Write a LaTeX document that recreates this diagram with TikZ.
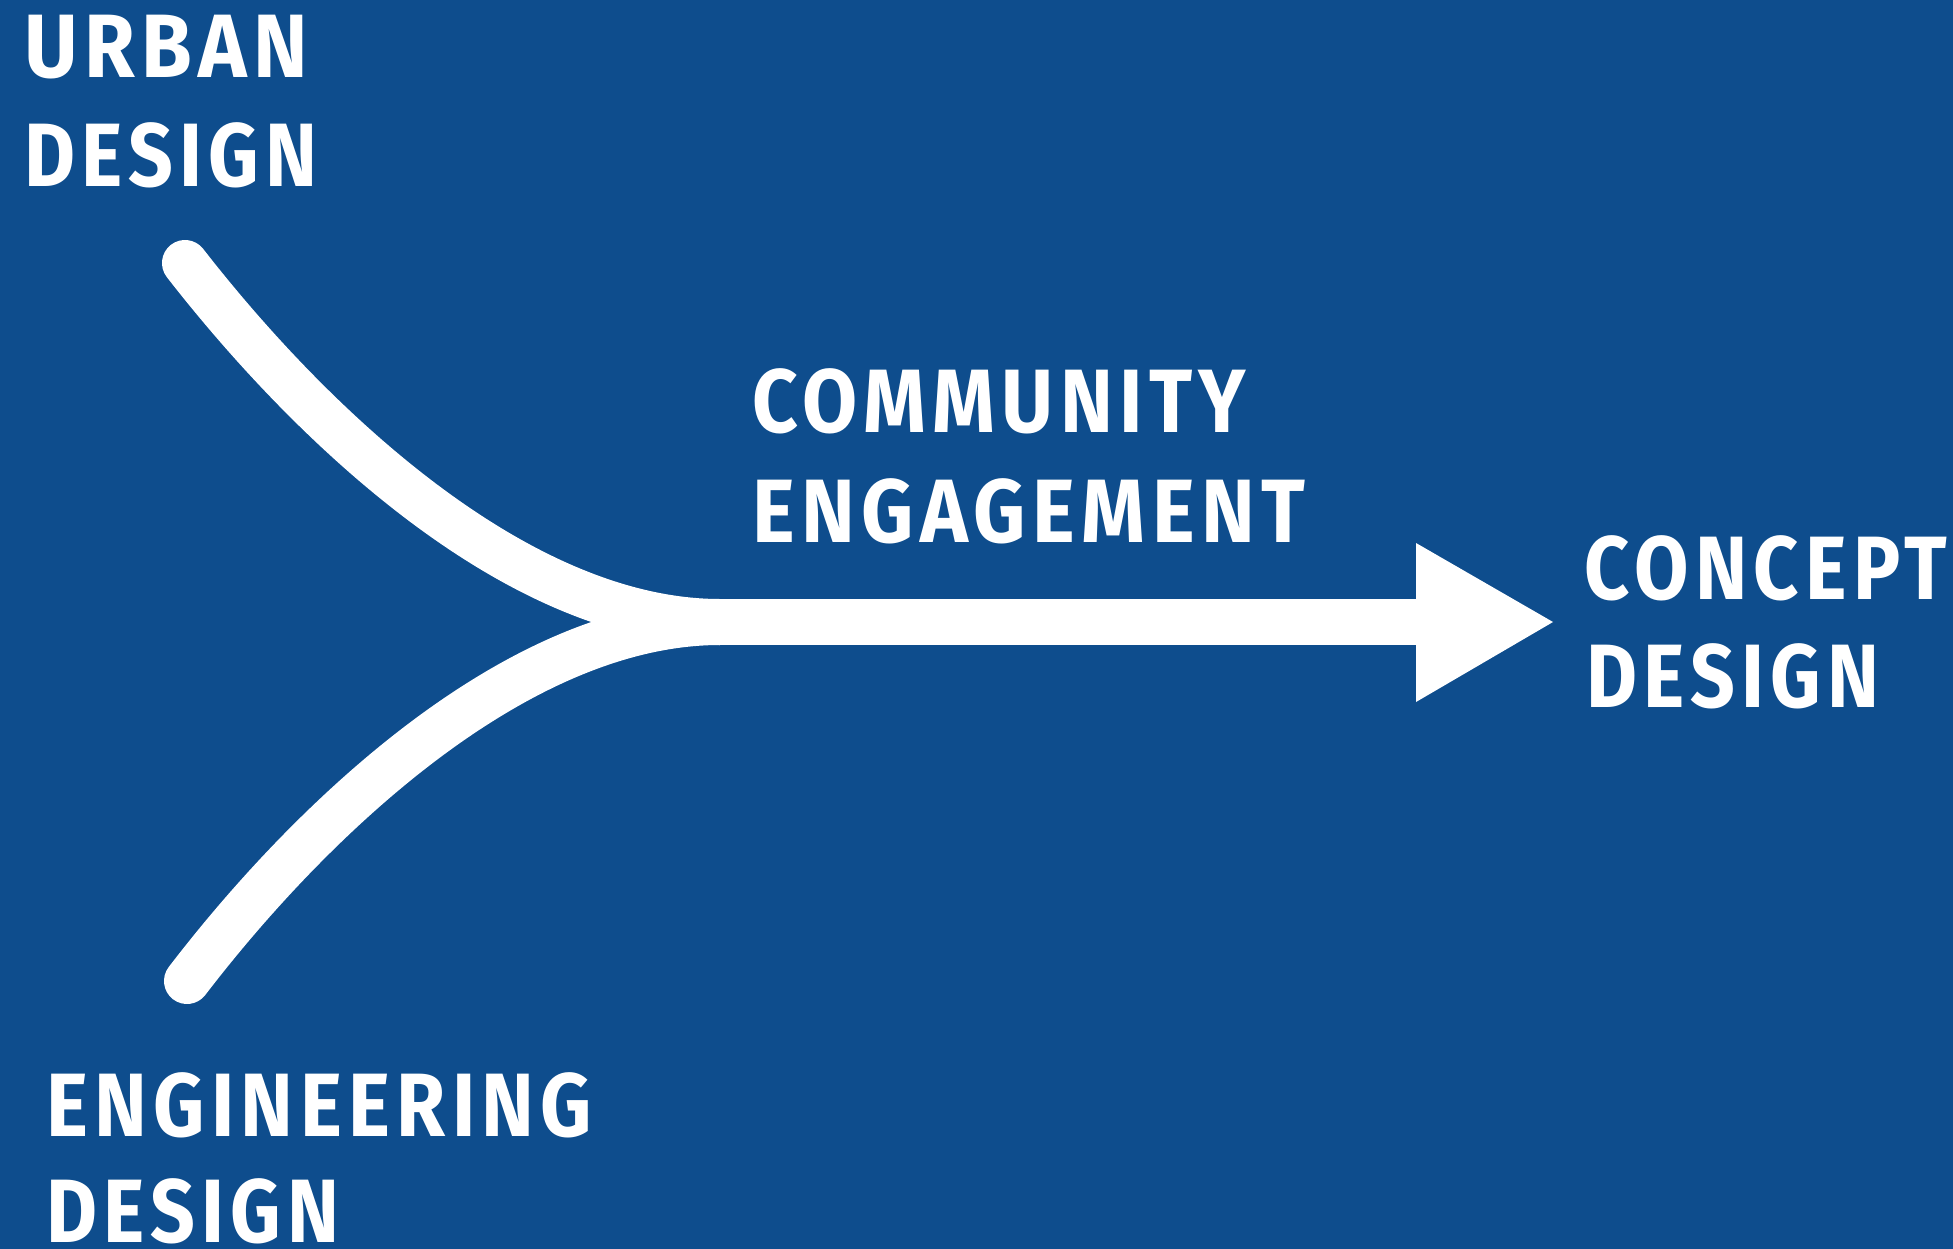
\documentclass[tikz,border=0pt]{standalone}
\usepackage{fontspec}
\usepackage{graphicx}
\setmainfont{Fira Sans}
\newfontfamily\lblface[LetterSpace=8]{Fira Sans Bold}
\usetikzlibrary{calc}
\definecolor{bgblue}{RGB}{14,77,141}
\newcommand\fitto[2]{\resizebox{#1}{\height}{#2}}
\tikzset{
  lbl/.style={anchor=base west, text=white, inner sep=0pt, font=\lblface\fontsize{90}{109}\selectfont},
  band/.style={draw=white, line width=46pt, line cap=round},
}
\begin{document}
\begin{tikzpicture}[x=1pt,y=-1pt]
\fill[bgblue] (0,0) rectangle (1953,1249);
\useasboundingbox (0,0) rectangle (1953,1249);
% labels
\node[lbl] (ud1) at (24,78) {\fitto{284pt}{URBAN}};
\node[lbl] (ud2) at (24,187) {\fitto{293pt}{DESIGN}};
\node[lbl] (ce1) at (752,432) {\fitto{494pt}{COMMUNITY}};
\node[lbl] (ce2) at (752,542) {\fitto{553pt}{ENGAGEMENT}};
\node[lbl] (cd1) at (1584,599) {\fitto{363pt}{CONCEPT}};
\node[lbl] (cd2) at (1586,707) {\fitto{293pt}{DESIGN}};
\node[lbl] (ed1) at (46,1136) {\fitto{546pt}{ENGINEERING}};
\node[lbl] (ed2) at (46,1242) {\fitto{293pt}{DESIGN}};
% connectors
\coordinate (us) at (185,263);
\coordinate (es) at (187,981);
\coordinate (m) at (720,622);
\coordinate (h) at (1416,622);
\coordinate (tip) at (1553,622);
\draw[band] (us) .. controls (315,430) and (520,622) .. (m);
\draw[band] (es) .. controls (315,814) and (520,622) .. (m);
\draw[band, line cap=butt] (m) -- (h);
\fill[white] ($(h)+(0,-79)$) -- (tip) -- ($(h)+(0,80)$) -- cycle;
\end{tikzpicture}
\end{document}
